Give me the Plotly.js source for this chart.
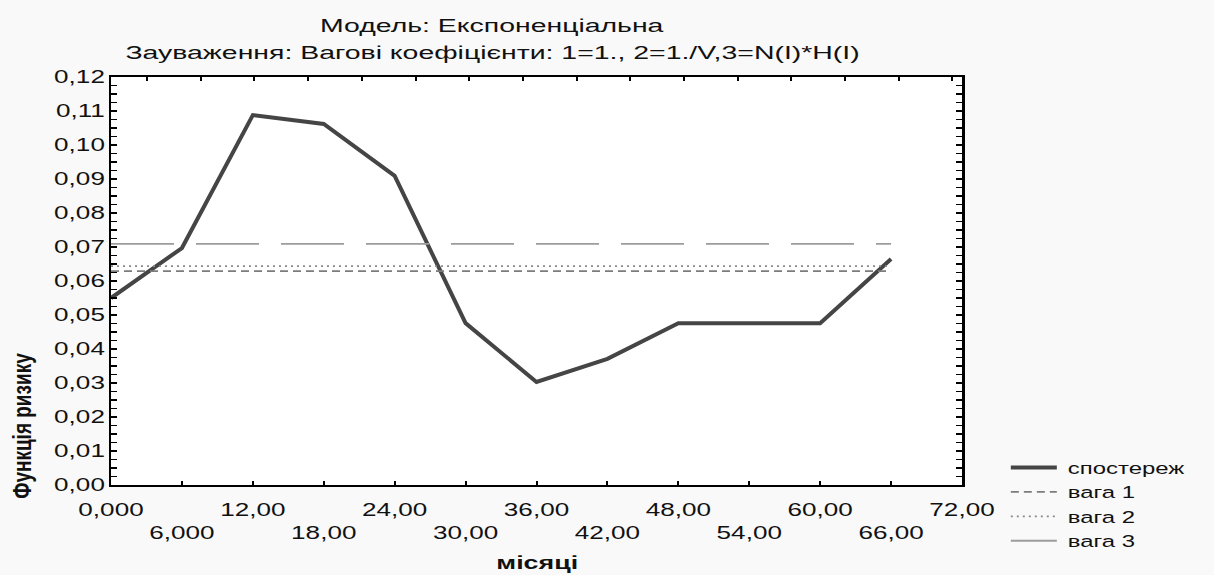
<!DOCTYPE html>
<html>
<head>
<meta charset="utf-8">
<script src="https://cdn.plot.ly/plotly-3.0.1.min.js"></script>
<style>
  html, body { margin: 0; padding: 0; background: #f9f9f9; }
  #chart { width: 1214px; height: 575px; }
</style>
</head>
<body>
<div id="chart"></div>
<script>
// ---- data ----
const months = [0, 6, 12, 18, 24, 30, 36, 42, 48, 54, 60, 66];
const observed = [0.0550, 0.0697, 0.1088, 0.1062, 0.0909, 0.0476, 0.0303, 0.0371, 0.0476, 0.0476, 0.0476, 0.0665];
const weightX = [0, 66];
const weight1 = [0.0629, 0.0629];
const weight2 = [0.0644, 0.0644];
const weight3 = [0.0709, 0.0709];
const seriesNames = ['спостереж', 'вага 1', 'вага 2', 'вага 3'];
const xTickVals = [0, 6, 12, 18, 24, 30, 36, 42, 48, 54, 60, 66, 72];
const xTickLabels = ['0,000', '6,000', '12,00', '18,00', '24,00', '30,00', '36,00', '42,00', '48,00', '54,00', '60,00', '66,00', '72,00'];
const subtitle1 = 'Модель: Експоненціальна';
const subtitle2 = 'Зауваження: Вагові коефіцієнти: 1=1., 2=1./V,3=N(I)*H(I)';
const yTitle = 'Функція ризику';
const xTitle = 'місяці';

const FONT = 'Liberation Sans, Arial, sans-serif';
const STRETCH = 1.45;      // the reference text is drawn horizontally widened
const SUB_STRETCH = 1.58;  // the two note lines are widened a little more
const staggered = xTickLabels.map((t, i) => (i % 2 === 1 ? '<br>' + t : t));

const traces = [
  { x: months, y: observed, name: seriesNames[0], mode: 'lines',
    line: { color: '#454545', width: 4 } },
  { x: weightX, y: weight1, name: seriesNames[1], mode: 'lines',
    line: { color: '#7c7c7c', width: 1.6, dash: '8px,5px' } },
  { x: weightX, y: weight2, name: seriesNames[2], mode: 'lines',
    line: { color: '#8a8a8a', width: 1.8, dash: '2px,4px' } },
  { x: weightX, y: weight3, name: seriesNames[3], mode: 'lines',
    line: { color: '#9c9c9c', width: 1.8, dash: '63px,22px' } },
  // invisible helper so the top tick axis is drawn
  { x: [0], y: [0], xaxis: 'x2', yaxis: 'y', mode: 'markers',
    marker: { opacity: 0 }, showlegend: false, hoverinfo: 'skip' }
];

const layout = {
  width: 1214, height: 575,
  margin: { l: 111, r: 252, t: 77, b: 90 },
  paper_bgcolor: '#f9f9f9',
  plot_bgcolor: '#ffffff',
  separators: ', ',
  font: { family: FONT, size: 18, color: '#111111' },
  showlegend: true,
  legend: {
    x: 1.0515, xanchor: 'left', y: 0.0854, yanchor: 'top',
    bgcolor: 'rgba(0,0,0,0)', font: { family: FONT, size: 16.5, color: '#111111' },
    itemwidth: 46, tracegroupgap: 0
  },
  xaxis: {
    range: [0, 72], showgrid: false, zeroline: false,
    showline: true, linecolor: '#000', linewidth: 2, mirror: true,
    ticks: 'inside', ticklen: 4, tickwidth: 2, tickcolor: '#000',
    tickmode: 'array', tickvals: xTickVals, ticktext: staggered,
    tickfont: { family: FONT, size: 18, color: '#111' },
    ticklabelstandoff: 7
  },
  xaxis2: {
    overlaying: 'x', side: 'top', range: [0, 72], showgrid: false, zeroline: false,
    showline: false, ticks: 'inside', ticklen: 4, tickwidth: 2, tickcolor: '#000',
    tick0: 3.05, dtick: 4.543, showticklabels: false
  },
  yaxis: {
    range: [0, 0.12], showgrid: false, zeroline: false,
    showline: true, linecolor: '#000', linewidth: 2.5, mirror: 'allticks',
    ticks: 'inside', ticklen: 6, tickwidth: 2, tickcolor: '#000',
    dtick: 0.01, tick0: 0, tickformat: '.2f',
    minor: { ticks: 'inside', ticklen: 3, tickwidth: 1.5, tickcolor: '#000', dtick: 0.0025 },
    tickfont: { family: FONT, size: 18, color: '#111' },
    ticklabelstandoff: 10.5
  },
  annotations: [
    { text: subtitle1, xref: 'paper', yref: 'paper', x: 0.448, y: 1.125,
      xanchor: 'center', yanchor: 'middle', showarrow: false,
      font: { family: FONT, size: 18, color: '#111' } },
    { text: subtitle2, xref: 'paper', yref: 'paper', x: 0.448, y: 1.06,
      xanchor: 'center', yanchor: 'middle', showarrow: false,
      font: { family: FONT, size: 18, color: '#111' } },
    { text: '<b>' + yTitle + '</b>', xref: 'paper', yref: 'paper', x: -0.1034, y: 0.145,
      xanchor: 'center', yanchor: 'middle', textangle: -90, showarrow: false,
      font: { family: FONT, size: 19, color: '#111' } },
    { text: '<b>' + xTitle + '</b>', xref: 'paper', yref: 'paper', x: 0.50, y: -0.19,
      xanchor: 'center', yanchor: 'middle', showarrow: false,
      font: { family: FONT, size: 18.5, color: '#111' } }
  ]
};

// widen the texts around their own anchors, as they are drawn in the reference
function widenText(gd) {
  gd.querySelectorAll('.main-svg text').forEach(t => {
    const txt = t.textContent;
    const old = t.getAttribute('transform') || '';
    if (txt === yTitle) {
      const bb = t.getBBox();
      const cy = bb.y + bb.height / 2;
      t.setAttribute('transform', old + ' translate(0,' + cy + ') scale(1,1.35) translate(0,' + (-cy) + ')');
      return;
    }
    const s = (txt === subtitle1 || txt === subtitle2) ? SUB_STRETCH : STRETCH;
    const x = parseFloat(t.getAttribute('x')) || 0;
    const pre = t.closest('.legend') ? ' translate(6,0)' : '';
    t.setAttribute('transform', old + pre + ' translate(' + x + ',0) scale(' + s + ',1) translate(' + (-x) + ',0)');
  });
  gd.querySelectorAll('.legend, .legend .scrollbox').forEach(s => s.removeAttribute('clip-path'));
}

Plotly.newPlot('chart', traces, layout, { displayModeBar: false, staticPlot: true })
  .then(gd => widenText(gd));
</script>
</body>
</html>
